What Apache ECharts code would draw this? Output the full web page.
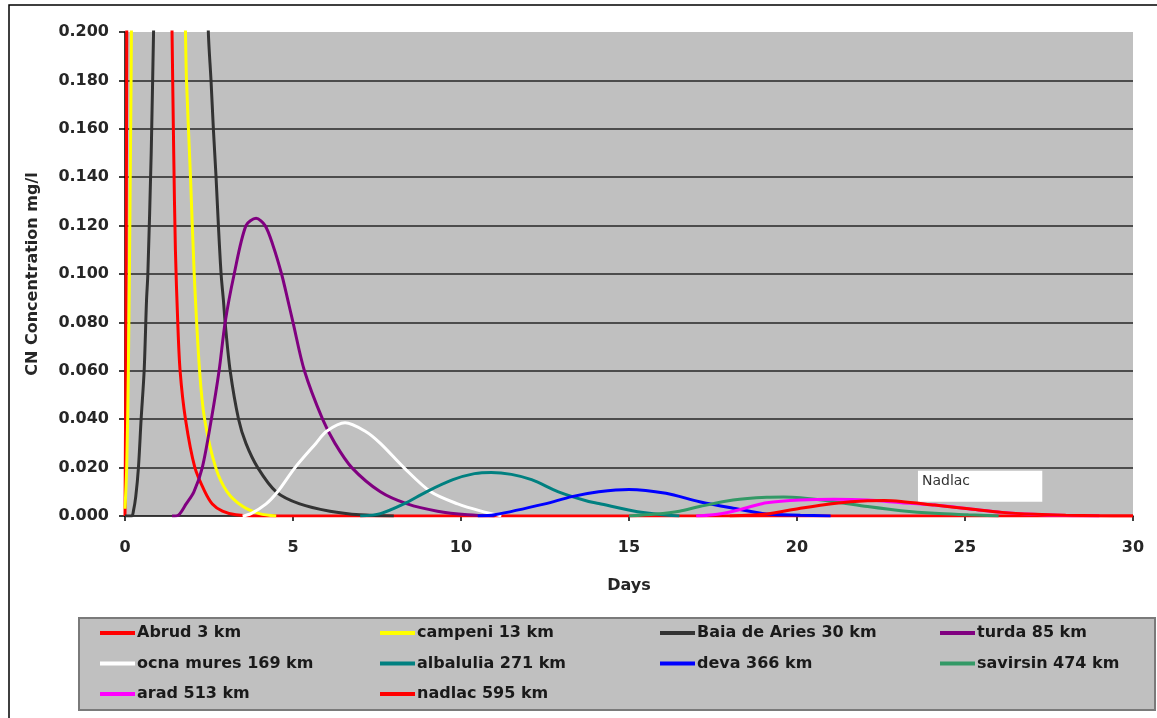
<!DOCTYPE html>
<html>
<head>
<meta charset="utf-8">
<script src="https://cdn.jsdelivr.net/npm/echarts@6/dist/echarts.min.js"></script>
<style>
html,body{margin:0;padding:0;background:#fff;}
#chart{width:1157px;height:718px;}
</style>
</head>
<body>
<div id="chart"></div>
<script>
// ---- data (days, CN concentration mg/l) ----
const seriesNames = ['Abrud 3 km','campeni 13 km','Baia de Aries 30 km','turda 85 km','ocna mures 169 km','albalulia 271 km','deva 366 km','savirsin 474 km','arad 513 km','nadlac 595 km'];

const abrudDays = [0, 0.03, 0.06, 0.1, 0.5, 1.0, 1.3, 1.4, 1.45, 1.5, 1.57, 1.64, 1.8, 2.08, 2.38, 2.6, 2.9, 3.3, 4, 30];
const abrudCN   = [0, 0.08, 0.25, 0.6, 1.8, 1.0, 0.3, 0.2, 0.15, 0.11, 0.08, 0.06, 0.04, 0.02, 0.01, 0.005, 0.002, 0.0005, 0, 0];

const campeniDays = [0, 0.05, 0.1, 0.15, 0.2, 0.4, 1.0, 1.6, 1.8, 1.83, 1.95, 2.06, 2.22, 2.37, 2.7, 3.04, 3.5, 4.0, 4.5];
const campeniCN   = [0.003, 0.02, 0.06, 0.13, 0.22, 1.0, 0.9, 0.35, 0.2, 0.18, 0.14, 0.1, 0.06, 0.04, 0.02, 0.01, 0.004, 0.001, 0];

const baiaDays = [0, 0.2, 0.25, 0.32, 0.4, 0.48, 0.57, 0.64, 0.68, 0.78, 0.85, 0.95, 1.5, 2.3, 2.48, 2.56, 2.63, 2.71, 2.78, 2.86, 2.93, 2.98, 3.13, 3.38, 3.6, 3.95, 4.5, 5.2, 6.1, 7.0, 8];
const baiaCN   = [0, 0, 0.002, 0.008, 0.02, 0.04, 0.06, 0.089, 0.1, 0.15, 0.2, 0.26, 0.9, 0.3, 0.2, 0.18, 0.16, 0.14, 0.12, 0.1, 0.089, 0.08, 0.06, 0.04, 0.03, 0.02, 0.01, 0.005, 0.002, 0.0005, 0];

const turdaDays = [1.4, 1.6, 1.82, 2.05, 2.3, 2.57, 2.8, 2.98, 3.25, 3.6, 3.9, 4.17, 4.4, 4.66, 4.85, 5.0, 5.34, 5.88, 6.25, 6.75, 7.6, 8.4, 9.3, 10.2, 11];
const turdaCN   = [0, 0.0005, 0.005, 0.01, 0.02, 0.04, 0.06, 0.08, 0.1, 0.12, 0.123, 0.12, 0.112, 0.1, 0.089, 0.08, 0.06, 0.04, 0.03, 0.02, 0.01, 0.005, 0.002, 0.0005, 0];

const ocnaDays = [3.5, 3.75, 4.2, 4.54, 5.06, 5.68, 6.0, 6.55, 7.15, 7.6, 8.3, 9.1, 9.9, 10.6, 11.2];
const ocnaCN   = [0, 0.001, 0.005, 0.01, 0.02, 0.03, 0.035, 0.0385, 0.035, 0.03, 0.02, 0.01, 0.005, 0.002, 0];

const albaDays = [7.0, 7.6, 8.3, 8.97, 9.76, 10.4, 10.9, 11.5, 12.1, 12.9, 13.8, 14.1, 15.1, 15.8, 16.5];
const albaCN   = [0, 0.001, 0.005, 0.01, 0.015, 0.0175, 0.018, 0.0172, 0.015, 0.01, 0.006, 0.0052, 0.0022, 0.0008, 0];

const devaDays = [10.5, 11.0, 12.5, 13.3, 14.1, 15.0, 16.1, 17.1, 18.1, 19.1, 20.1, 21];
const devaCN   = [0, 0.0005, 0.005, 0.008, 0.010, 0.011, 0.0094, 0.0059, 0.0032, 0.0008, 0.0003, 0];

const savirsinDays = [15.0, 15.8, 16.5, 17.1, 18.1, 19.1, 19.6, 20.1, 21.1, 22.1, 23.1, 24.1, 25.1, 26];
const savirsinCN   = [0, 0.0008, 0.002, 0.0039, 0.0066, 0.0077, 0.0078, 0.0075, 0.0059, 0.0039, 0.0022, 0.0011, 0.0005, 0];

const aradDays = [17, 17.5, 18.1, 18.6, 19.1, 20.1, 21.1, 22.1, 23.1, 24.1, 25.1, 26.1, 27, 28, 29];
const aradCN   = [0, 0.0005, 0.002, 0.0038, 0.0055, 0.0066, 0.0069, 0.0066, 0.0055, 0.0045, 0.003, 0.0015, 0.0007, 0.0002, 0];

const nadlacDays = [18.0, 19.1, 20.1, 21.1, 22.1, 22.6, 23.1, 24.1, 25.1, 26.1, 27.1, 28, 29, 30];
const nadlacCN   = [0, 0.0008, 0.0032, 0.0052, 0.0063, 0.0064, 0.006, 0.0045, 0.003, 0.0015, 0.0007, 0.0003, 0.0001, 0];

const xTicks = { min: 0, max: 30, interval: 5 };
const yTicks = { min: 0, max: 0.2, interval: 0.02 };

// annotation box "Nadlac" in data units [dayFrom, cnTop, dayTo, cnBottom]
const nadlacNote = { text: 'Nadlac', box: [23.6, 0.0187, 27.3, 0.0059] };

// ---- styles ----
const seriesColors = ['#ff0000','#ffff00','#333333','#800080','#ffffff','#008080','#0000ff','#339966','#ff00ff','#ff0000'];
const allDays = [abrudDays, campeniDays, baiaDays, turdaDays, ocnaDays, albaDays, devaDays, savirsinDays, aradDays, nadlacDays];
const allCN = [abrudCN, campeniCN, baiaCN, turdaCN, ocnaCN, albaCN, devaCN, savirsinCN, aradCN, nadlacCN];

const FONT = 'DejaVu Sans';

const series = seriesNames.map((name, i) => {
  const s = {
    name: name,
    type: 'line',
    data: allDays[i].map((d, j) => [d, allCN[i][j]]),
    showSymbol: false,
    symbol: 'none',
    smooth: 0.3,
    lineStyle: { color: seriesColors[i], width: 3 },
    itemStyle: { color: seriesColors[i] },
    emphasis: { disabled: true },
    z: 3
  };
  if (i === seriesNames.length - 1) {
    const b = nadlacNote.box;
    s.markArea = {
      silent: true,
      itemStyle: { color: '#ffffff', opacity: 1, borderWidth: 0 },
      label: {
        show: true, position: 'insideTopLeft', distance: 4,
        color: '#333', fontFamily: FONT, fontSize: 14, fontWeight: 'normal'
      },
      data: [[{ name: nadlacNote.text, xAxis: b[0], yAxis: b[1] }, { xAxis: b[2], yAxis: b[3] }]]
    };
  }
  return s;
});

const legendCols = [
  [seriesNames[0], seriesNames[4], seriesNames[8]],
  [seriesNames[1], seriesNames[5], seriesNames[9]],
  [seriesNames[2], seriesNames[6]],
  [seriesNames[3], seriesNames[7]]
];
const legendLeft = [100, 380, 660, 940];

const legends = legendCols.map((col, k) => ({
  show: true,
  orient: 'vertical',
  left: legendLeft[k],
  top: 623,
  padding: 0,
  itemGap: 10.5,
  itemWidth: 35,
  itemHeight: 4,
  icon: 'rect',
  selectedMode: false,
  data: col,
  textStyle: { fontFamily: FONT, fontSize: 16, fontWeight: 'bold', color: '#1a1a1a', lineHeight: 20, padding: [0, 0, 0, -3] }
}));

const option = {
  animation: false,
  backgroundColor: '#ffffff',
  color: seriesColors,
  grid: {
    left: 125, right: 24, top: 32, bottom: 202,
    show: true, backgroundColor: '#c0c0c0', borderWidth: 0,
    containLabel: false
  },
  legend: legends,
  graphic: [
    { type: 'rect', z: -10, silent: true, shape: { x: 9, y: 5, width: 1170, height: 730 },
      style: { fill: 'none', stroke: '#000', lineWidth: 1.5 } },
    { type: 'rect', z: -5, silent: true, shape: { x: 79, y: 618, width: 1076, height: 92 },
      style: { fill: '#c0c0c0', stroke: '#7a7a7a', lineWidth: 2 } }
  ],
  xAxis: {
    type: 'value',
    min: xTicks.min, max: xTicks.max, interval: xTicks.interval,
    name: 'Days', nameLocation: 'middle', nameGap: 62,
    nameTextStyle: { fontFamily: FONT, fontSize: 16, fontWeight: 'bold', color: '#262626' },
    axisLine: { show: true, onZero: false, lineStyle: { color: '#000', width: 1.5 } },
    axisTick: { show: true, length: 5, lineStyle: { color: '#000', width: 1.5 } },
    axisLabel: { margin: 24, fontFamily: FONT, fontSize: 16, fontWeight: 'bold', color: '#262626' },
    splitLine: { show: false }
  },
  yAxis: {
    type: 'value',
    min: yTicks.min, max: yTicks.max, interval: yTicks.interval,
    name: 'CN Concentration mg/l', nameLocation: 'middle', nameGap: 84,
    nameTextStyle: { fontFamily: FONT, fontSize: 16, fontWeight: 'bold', color: '#262626' },
    axisLine: { show: true, lineStyle: { color: '#000', width: 1.5 } },
    axisTick: { show: true, length: 6, lineStyle: { color: '#000', width: 1.5 } },
    axisLabel: { margin: 16, fontFamily: FONT, fontSize: 16, fontWeight: 'bold', color: '#262626',
      formatter: v => v.toFixed(3) },
    splitLine: { show: true, showMaxLine: false, showMinLine: false, lineStyle: { color: '#262626', width: 1.5 } }
  },
  series: series
};

const chart = echarts.init(document.getElementById('chart'), null, { renderer: 'canvas' });
chart.setOption(option);
</script>
</body>
</html>
